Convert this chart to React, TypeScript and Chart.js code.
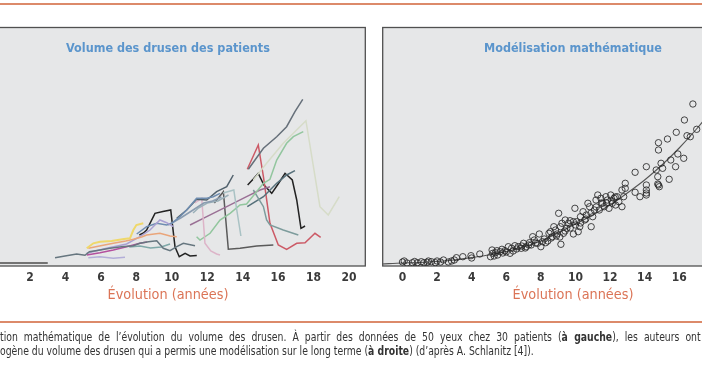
import React, { useEffect, useRef } from "react";
import { Chart, registerables } from "chart.js";

Chart.register(...registerables);

// ---------- DATA: left panel (years, drusen volume in arbitrary units) ----------
const xBase = [0, 3.0];
const vBase = [0, 0];
const xSlate = [3.41, 3.97, 4.63, 5.1, 5.35, 5.95, 6.51, 7.17, 7.83, 8.2, 8.68, 9.15, 9.52, 9.9, 10.28, 10.65, 11.31];
const vSlate = [0.053, 0.07, 0.09, 0.077, 0.113, 0.13, 0.147, 0.163, 0.173, 0.197, 0.213, 0.223, 0.147, 0.123, 0.163, 0.197, 0.173];
const xYellow = [5.2, 5.57, 5.95, 6.6, 7.3, 7.64, 7.83, 8.0, 8.39];
const vYellow = [0.147, 0.197, 0.213, 0.22, 0.24, 0.247, 0.33, 0.38, 0.397];
const xSalmon = [5.29, 6.2, 6.7, 7.4, 7.83, 8.3, 8.58, 9.33, 9.9, 10.28];
const vSalmon = [0.147, 0.18, 0.197, 0.22, 0.237, 0.26, 0.28, 0.297, 0.27, 0.263];
const xMagenta = [5.2, 5.95, 6.7, 7.45, 8.2, 8.6];
const vMagenta = [0.08, 0.103, 0.13, 0.163, 0.197, 0.21];
const xLavender = [5.29, 5.95, 6.7, 7.36];
const vLavender = [0.053, 0.063, 0.047, 0.057];
const xLilac = [5.2, 6.32, 7.45, 8.2, 8.77, 9.33, 9.71, 10.09];
const vLilac = [0.097, 0.147, 0.19, 0.263, 0.33, 0.43, 0.403, 0.363];
const xTeal = [7.6, 8.2, 8.8, 9.4, 9.9];
const vTeal = [0.16, 0.17, 0.15, 0.16, 0.19];
const xBlack1 = [8.17, 8.4, 8.58, 9.05, 9.5, 9.94, 10.18, 10.42, 10.75, 11.03, 11.41];
const vBlack1 = [0.28, 0.3, 0.33, 0.497, 0.515, 0.53, 0.163, 0.063, 0.097, 0.07, 0.075];
const xSteel = [8.02, 8.58, 9.15, 9.71, 10.0, 10.46, 10.84, 11.4, 11.97, 12.34, 12.72];
const vSteel = [0.29, 0.363, 0.397, 0.38, 0.397, 0.463, 0.53, 0.647, 0.647, 0.663, 0.697];
const xDarkSlate = [10.28, 10.84, 11.4, 11.97, 12.53, 13.1, 13.47];
const vDarkSlate = [0.447, 0.53, 0.637, 0.63, 0.713, 0.763, 0.88];
const xGrayBlue = [9.8, 10.5, 11.2, 11.8, 12.3, 12.8];
const vGrayBlue = [0.38, 0.45, 0.53, 0.6, 0.62, 0.66];
const xLightSlate = [11.2, 11.5, 12.0, 12.6, 13.2];
const vLightSlate = [0.5, 0.55, 0.6, 0.62, 0.68];
const xDarkGray = [12.4, 12.91, 13.19, 13.85, 14.79, 15.73];
const vDarkGray = [0.6, 0.713, 0.137, 0.147, 0.17, 0.18];
const xPink = [11.3, 11.69, 11.87, 12.2, 12.53, 12.72];
const vPink = [0.6, 0.647, 0.197, 0.12, 0.09, 0.08];
const xPaleTeal = [12.9, 13.5, 13.65, 13.9];
const vPaleTeal = [0.7, 0.73, 0.55, 0.27];
const xMauve = [11.03, 11.97, 13.1, 14.22, 14.98, 15.54];
const vMauve = [0.38, 0.463, 0.563, 0.663, 0.73, 0.763];
const xGreen = [11.4, 11.59, 12.16, 12.72, 13.29, 13.85, 14.22, 15.17, 15.54, 15.92, 16.48, 16.86, 17.42];
const vGreen = [0.263, 0.23, 0.297, 0.43, 0.497, 0.58, 0.59, 0.797, 0.837, 1.03, 1.197, 1.263, 1.313];
const xBeige = [14.6, 15.35, 16.29, 16.86, 17.57, 18.36, 18.83, 19.45];
const vBeige = [0.83, 0.997, 1.197, 1.297, 1.423, 0.563, 0.48, 0.663];
const xTop = [14.32, 15.17, 15.92, 16.48, 16.95, 17.39];
const vTop = [0.937, 1.147, 1.263, 1.363, 1.513, 1.637];
const xRed = [14.26, 14.88, 15.17, 15.54, 16.01, 16.48, 17.05, 17.52, 18.08, 18.4];
const vRed = [0.937, 1.18, 0.863, 0.397, 0.18, 0.137, 0.197, 0.203, 0.297, 0.257];
const xBlack2 = [14.28, 14.6, 14.88, 15.2, 15.64, 16.0, 16.39, 16.8, 17.05, 17.29, 17.52];
const vBlack2 = [0.78, 0.84, 0.897, 0.78, 0.697, 0.79, 0.897, 0.83, 0.63, 0.347, 0.37];
const xDarkTeal = [14.26, 15.17, 15.92, 16.48, 16.95];
const vDarkTeal = [0.563, 0.663, 0.797, 0.88, 0.923];
const xTealGray = [14.6, 15.17, 15.35, 15.54, 16.29, 17.14];
const vTealGray = [0.73, 0.563, 0.43, 0.38, 0.33, 0.28];

// ---------- DATA: right panel ----------
const scatterX = [
  0.0, 0.26, 0.58, 0.86, 1.09, 1.24, 1.43, 1.67, 1.9, 2.37, 2.65, 2.84, 3.12, 3.49, 3.96, 4.47, 5.09, 5.18, 5.22, 5.37,
  5.46, 5.65, 5.75, 5.93, 6.12, 6.22, 6.31, 6.5, 6.69, 6.87, 7.0, 7.15, 7.34, 7.44, 7.53, 7.62, 7.81, 7.91, 8.0, 8.09,
  8.28, 8.47, 8.56, 8.66, 8.75, 8.85, 8.94, 9.03, 9.13, 9.16, 9.22, 9.31, 9.41, 9.5, 9.6, 9.69, 9.88, 9.88, 9.97, 10.07,
  10.16, 10.25, 10.29, 10.44, 10.54, 10.63, 10.72, 10.82, 10.91, 11.0, 11.1, 11.19, 11.29, 11.38, 11.47, 11.57, 11.66, 11.76, 11.85, 11.94,
  12.04, 12.13, 12.23, 12.32, 12.41, 12.51, 12.69, 12.69, 12.79, 12.88, 12.88, 13.45, 13.45, 13.73, 14.1, 14.1, 14.1, 14.1, 14.67, 14.76,
  14.76, 14.8, 14.8, 14.85, 14.95, 15.04, 15.32, 15.42, 15.51, 15.79, 15.83, 15.92, 16.26, 16.3, 16.45, 16.64, 16.79, 17.01,
  5.5, 5.8, 6.0, 6.4, 6.6, 6.9, 7.1, 7.3, 7.7, 8.2, 8.4, 8.6, 8.9, 9.1, 9.4, 9.7, 10.0, 10.3, 10.6, 10.9, 11.2, 11.5, 11.8, 12.1, 12.3,
  0.1, 0.7, 1.5, 2.0, 2.2, 3.0, 4.0, 5.3, 14.1, 14.8,
];
const scatterV = [
  0.01, 0.0, 0.003, 0.003, 0.013, 0.003, 0.007, 0.013, 0.003, 0.03, 0.01, 0.02, 0.053, 0.063, 0.073, 0.09, 0.063, 0.13, 0.097, 0.103,
  0.123, 0.113, 0.137, 0.123, 0.163, 0.097, 0.147, 0.173, 0.163, 0.147, 0.197, 0.163, 0.203, 0.18, 0.263, 0.23, 0.197, 0.29, 0.163, 0.213,
  0.203, 0.297, 0.313, 0.263, 0.363, 0.33, 0.29, 0.497, 0.363, 0.187, 0.397, 0.297, 0.43, 0.347, 0.397, 0.423, 0.29, 0.413, 0.547, 0.413,
  0.313, 0.363, 0.463, 0.513, 0.43, 0.48, 0.597, 0.563, 0.363, 0.463, 0.53, 0.63, 0.68, 0.53, 0.647, 0.597, 0.563, 0.663, 0.63, 0.547,
  0.68, 0.597, 0.647, 0.58, 0.663, 0.613, 0.563, 0.73, 0.663, 0.797, 0.747, 0.907, 0.707, 0.663, 0.963, 0.78, 0.73, 0.68, 0.93, 0.863,
  0.79, 1.203, 1.13, 0.763, 0.997, 0.947, 1.24, 0.837, 1.03, 0.963, 1.307, 1.09, 1.047, 1.43, 1.273, 1.263, 1.59, 1.337,
  0.08, 0.1, 0.11, 0.12, 0.14, 0.17, 0.15, 0.18, 0.2, 0.24, 0.22, 0.25, 0.27, 0.26, 0.32, 0.35, 0.38, 0.4, 0.44, 0.5, 0.56, 0.6, 0.6, 0.62, 0.66,
  0.02, 0.015, 0.02, 0.02, 0.01, 0.03, 0.05, 0.07, 0.7, 0.78,
];
const modelX = [-1.2, 0, 1, 2, 3, 4, 5, 6, 7, 8, 9, 10, 11, 12, 13, 14, 15, 16, 17, 18];
const modelV = [-0.01, 0, 0.005, 0.015, 0.03, 0.055, 0.08, 0.115, 0.16, 0.22, 0.3, 0.39, 0.48, 0.58, 0.7, 0.83, 0.98, 1.15, 1.34, 1.55];

const xTicks = [0, 2, 4, 6, 8, 10, 12, 14, 16, 18, 20];
const leftTitle = "Volume des drusen des patients";
const rightTitle = "Modélisation mathématique";
const axisTitle = "Évolution (années)";

const FONT = "'Liberation Sans Narrow', 'DejaVu Sans Condensed', 'Roboto Condensed', 'Liberation Sans', sans-serif";

const pts = (xs: number[], vs: number[]) => xs.map((x, i) => ({ x, y: vs[i] }));

const line = (xs: number[], vs: number[], color: string, width = 1.5) => ({
  data: pts(xs, vs),
  showLine: true,
  borderColor: color,
  backgroundColor: color,
  borderWidth: width,
  pointRadius: 0,
  tension: 0,
});

// layout constants (canvas px)
const CANVAS_H = 330;
const PANEL_TOP = 27;
const BASELINE = 263;
const PX_PER_UNIT = 100;
const TITLE_PAD_TOP = 14;
const TITLE_PAD_BOTTOM = 8;
const TITLE_SIZE = 12.5;
const AREA_TOP = PANEL_TOP + TITLE_PAD_TOP + TITLE_PAD_BOTTOM + TITLE_SIZE * 1.2;

const panelPlugin = {
  id: "panelBox",
  beforeDraw(chart: any) {
    const { ctx, chartArea } = chart;
    ctx.save();
    ctx.fillStyle = "#e6e7e8";
    ctx.fillRect(chartArea.left, PANEL_TOP, chartArea.right - chartArea.left, chartArea.bottom - PANEL_TOP);
    ctx.strokeStyle = "#505050";
    ctx.lineWidth = 1.3;
    ctx.strokeRect(chartArea.left + 0.7, PANEL_TOP + 0.5, chartArea.right - chartArea.left - 1.4, chartArea.bottom - PANEL_TOP - 0.5);
    ctx.restore();
  },
};

function makeOptions(xmin: number, xmax: number, title: string) {
  return {
    responsive: false,
    animation: false as const,
    layout: { padding: { top: PANEL_TOP, bottom: 24, left: 0, right: 0 } },
    plugins: {
      legend: { display: false },
      tooltip: { enabled: false },
      title: {
        display: true,
        text: title,
        color: "#5b95cc",
        font: { family: FONT, size: TITLE_SIZE, weight: "bold" as const, lineHeight: 1.2 },
        padding: { top: TITLE_PAD_TOP, bottom: TITLE_PAD_BOTTOM },
      },
    },
    scales: {
      x: {
        type: "linear" as const,
        min: xmin,
        max: xmax,
        grid: { display: false, drawTicks: false },
        border: { display: false },
        afterBuildTicks: (s: any) => {
          s.ticks = xTicks.map((v) => ({ value: v }));
        },
        afterFit: (s: any) => {
          s.height = 40;
        },
        ticks: {
          color: "#3a3a3a",
          padding: 5,
          maxRotation: 0,
          autoSkip: false,
          font: { family: FONT, size: 12, weight: "bold" as const },
        },
        title: {
          display: true,
          text: axisTitle,
          color: "#db7456",
          font: { family: FONT, size: 14.3, lineHeight: 1.2 },
          padding: { top: 0, bottom: 2 },
        },
      },
      y: {
        display: false,
        min: -(CANVAS_H - 24 - 40 - BASELINE) / PX_PER_UNIT,
        max: (BASELINE - AREA_TOP) / PX_PER_UNIT,
      },
    },
  };
}

const LEFT_CANVAS_X = -30;
const LEFT_W = 396;
const RIGHT_CANVAS_X = 377;
const RIGHT_W = 392;
// pixel positions of tick 0 and slope per year
const leftZero = -5.4, leftSlope = 17.72;
const rightZero = 398, rightSlope = 17.75;

export default function App() {
  const leftRef = useRef<HTMLCanvasElement>(null);
  const rightRef = useRef<HTMLCanvasElement>(null);

  useEffect(() => {
    document.body.style.margin = "0";
    const lc = new Chart(leftRef.current as HTMLCanvasElement, {
      type: "scatter",
      data: {
        datasets: [
          line(xBase, vBase, "#4d4d4d"),
          line(xLavender, vLavender, "#b3aed8"),
          line(xSlate, vSlate, "#66767f"),
          line(xYellow, vYellow, "#efd86a", 2),
          line(xSalmon, vSalmon, "#eaa57a"),
          line(xMagenta, vMagenta, "#b4509e"),
          line(xLilac, vLilac, "#a99fd2"),
          line(xTeal, vTeal, "#7fa8a8"),
          line(xSteel, vSteel, "#6f8db0"),
          line(xGrayBlue, vGrayBlue, "#8a9cb0"),
          line(xLightSlate, vLightSlate, "#9ab0b8"),
          line(xDarkSlate, vDarkSlate, "#52626d"),
          line(xPink, vPink, "#ddb4c8"),
          line(xPaleTeal, vPaleTeal, "#a9c2c4"),
          line(xBeige, vBeige, "#d6dcc8"),
          line(xGreen, vGreen, "#92c69e"),
          line(xMauve, vMauve, "#9a7095"),
          line(xTealGray, vTealGray, "#7d9c9c"),
          line(xDarkTeal, vDarkTeal, "#56707a"),
          line(xDarkGray, vDarkGray, "#5a5a5a"),
          line(xTop, vTop, "#66707a"),
          line(xRed, vRed, "#cc5a66"),
          line(xBlack1, vBlack1, "#222222"),
          line(xBlack2, vBlack2, "#222222"),
        ],
      },
      options: makeOptions(
        (LEFT_CANVAS_X - leftZero) / leftSlope,
        (LEFT_CANVAS_X + LEFT_W - leftZero) / leftSlope,
        leftTitle
      ) as any,
      plugins: [panelPlugin],
    });
    const rc = new Chart(rightRef.current as HTMLCanvasElement, {
      type: "scatter",
      data: {
        datasets: [
          {
            data: pts(scatterX, scatterV),
            pointRadius: 3.2,
            pointBorderWidth: 1,
            pointBorderColor: "rgba(40,40,40,0.85)",
            pointBackgroundColor: "rgba(0,0,0,0)",
            showLine: false,
          },
          {
            ...line(modelX, modelV, "#555555", 1.1),
            cubicInterpolationMode: "monotone",
          },
        ],
      },
      options: makeOptions(
        (RIGHT_CANVAS_X - rightZero) / rightSlope,
        (RIGHT_CANVAS_X + RIGHT_W - rightZero) / rightSlope,
        rightTitle
      ) as any,
      plugins: [panelPlugin],
    });
    return () => {
      lc.destroy();
      rc.destroy();
    };
  }, []);

  const captionLine = {
    position: "absolute" as const,
    left: 0,
    fontFamily: FONT,
    fontSize: 12,
    lineHeight: "14px",
    color: "#333",
    whiteSpace: "nowrap" as const,
    transform: "scaleX(0.86)",
    transformOrigin: "0 0",
  };

  return (
    <div style={{ position: "relative", width: 702, height: 370, overflow: "hidden", background: "#fff" }}>
      <div style={{ position: "absolute", left: 0, top: 3, width: 702, height: 2, background: "#dc8a6a" }} />
      <canvas
        ref={leftRef}
        width={LEFT_W}
        height={CANVAS_H}
        style={{ position: "absolute", left: LEFT_CANVAS_X, top: 0 }}
      />
      <canvas
        ref={rightRef}
        width={RIGHT_W}
        height={CANVAS_H}
        style={{ position: "absolute", left: RIGHT_CANVAS_X, top: 0 }}
      />
      <div style={{ position: "absolute", left: 0, top: 321, width: 702, height: 2, background: "#dc8a6a" }} />
      <div style={{ ...captionLine, top: 330, wordSpacing: "3.6px" }}>
        tion mathématique de l’évolution du volume des drusen. À partir des données de 50 yeux chez 30 patients (
        <b>à gauche</b>), les auteurs ont
      </div>
      <div style={{ ...captionLine, top: 344 }}>
        ogène du volume des drusen qui a permis une modélisation sur le long terme (<b>à droite</b>) (d’après A. Schlanitz [4]).
      </div>
    </div>
  );
}
